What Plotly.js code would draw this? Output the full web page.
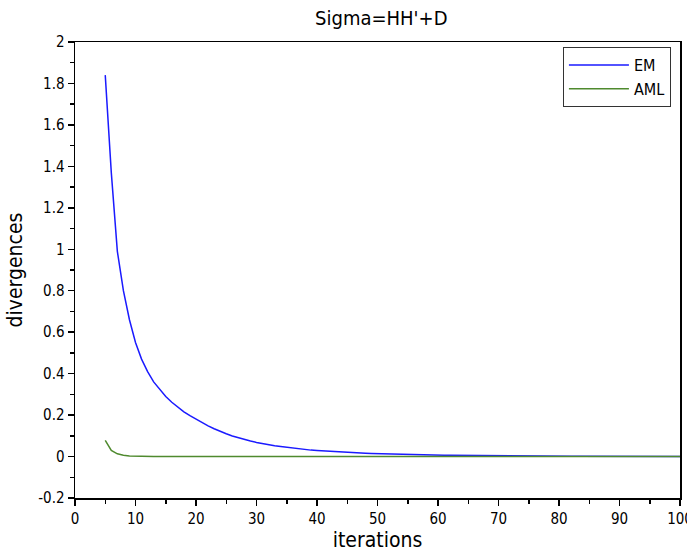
<!DOCTYPE html>
<html>
<head>
<meta charset="utf-8">
<script src="https://cdn.plot.ly/plotly-3.0.1.min.js"></script>
<style>html,body{margin:0;padding:0;background:#fff;}#chart{width:687px;height:552px;}</style>
</head>
<body>
<div id="chart"></div>
<script>
var iterations = [5,6,7,8,9,10,11,12,13,14,15,16,17,18,19,20,21,22,23,24,25,26,27,28,29,30,31,32,33,34,35,36,37,38,39,40,41,42,43,44,45,46,47,48,49,50,51,52,53,54,55,56,57,58,59,60,61,62,63,64,65,66,67,68,69,70,71,72,73,74,75,76,77,78,79,80,81,82,83,84,85,86,87,88,89,90,91,92,93,94,95,96,97,98,99,100];
var emValues = [1.84,1.37,0.99,0.80,0.66,0.55,0.47,0.41,0.36,0.325,0.29,0.262,0.238,0.216,0.197,0.18,0.163,0.148,0.134,0.121,0.110,0.099,0.090,0.082,0.075,0.068,0.062,0.057,0.052,0.048,0.044,0.040,0.037,0.034,0.031,0.029,0.027,0.025,0.023,0.021,0.020,0.018,0.017,0.016,0.015,0.014,0.013,0.012,0.011,0.0105,0.0098,0.0092,0.0086,0.0081,0.0076,0.0071,0.0067,0.0063,0.0059,0.0055,0.0052,0.0049,0.0046,0.0043,0.0041,0.0038,0.0036,0.0034,0.0032,0.0030,0.0028,0.0027,0.0025,0.0024,0.0022,0.0021,0.0020,0.0019,0.0018,0.0017,0.0016,0.0015,0.0014,0.0013,0.0012,0.0012,0.0011,0.0010,0.0010,0.0009,0.0009,0.0008,0.0008,0.0007,0.0007,0.0006];
var amlValues = [0.078,0.030,0.013,0.006,0.003,0.0015,0.0008,0.0005,0.0003,0.0002,0.0001,0.0001,0,0,0,0,0,0,0,0,0,0,0,0,0,0,0,0,0,0,0,0,0,0,0,0,0,0,0,0,0,0,0,0,0,0,0,0,0,0,0,0,0,0,0,0,0,0,0,0,0,0,0,0,0,0,0,0,0,0,0,0,0,0,0,0,0,0,0,0,0,0,0,0,0,0,0,0,0,0,0,0,0,0,0,0];
var seriesNames = ["EM","AML"];
var xTickVals = [0,10,20,30,40,50,60,70,80,90,100];
var yTickVals = [-0.2,0,0.2,0.4,0.6,0.8,1,1.2,1.4,1.6,1.8,2];
var yTickText = ["-0.2","0","0.2","0.4","0.6","0.8","1","1.2","1.4","1.6","1.8","2"];

var FONT = "DejaVu Sans Condensed, DejaVu Sans, sans-serif";
var traces = [
  {x: iterations, y: emValues, name: seriesNames[0], mode: "lines", line: {color: "#1a1aff", width: 1.5}},
  {x: iterations, y: amlValues, name: seriesNames[1], mode: "lines", line: {color: "#4f8a2e", width: 1.5}}
];
var layout = {
  width: 687, height: 552,
  paper_bgcolor: "#fff", plot_bgcolor: "#fff",
  margin: {l: 75, r: 7, t: 42, b: 54},
  font: {family: FONT, color: "#000", size: 15},
  title: {text: "Sigma=HH'+D", x: 0.555, xanchor: "center", y: 0.968, yanchor: "middle", font: {family: FONT, size: 20, color: "#000"}},
  xaxis: {
    range: [0, 100], tickvals: xTickVals, ticks: "outside", ticklen: 6, tickwidth: 1.5, tickcolor: "#000",
    minor: {dtick: 5, ticks: "outside", ticklen: 4, tickwidth: 1.5, tickcolor: "#000", showgrid: false},
    showline: true, linecolor: "#000", linewidth: 1.5, mirror: true, showgrid: false, zeroline: false,
    ticklabeloverflow: "allow",
    tickfont: {family: FONT, size: 15, color: "#000"},
    title: {text: "iterations", font: {family: FONT, size: 21, color: "#000"}, standoff: 6}
  },
  yaxis: {
    range: [-0.2, 2], tickvals: yTickVals, ticktext: yTickText, ticks: "outside", ticklen: 6, tickwidth: 1.5, tickcolor: "#000",
    minor: {dtick: 0.1, ticks: "outside", ticklen: 4, tickwidth: 1.5, tickcolor: "#000", showgrid: false},
    showline: true, linecolor: "#000", linewidth: 1.5, mirror: true, showgrid: false, zeroline: false,
    tickfont: {family: FONT, size: 15, color: "#000"},
    title: {text: "divergences", font: {family: FONT, size: 21, color: "#000"}, standoff: 10}
  },
  showlegend: true,
  legend: {x: 0.985, y: 0.989, xanchor: "right", yanchor: "top", bgcolor: "#fff", bordercolor: "#333", borderwidth: 1,
    font: {family: FONT, size: 16, color: "#000"}, itemwidth: 60, tracegroupgap: 0}
};
Plotly.newPlot("chart", traces, layout, {staticPlot: true, displayModeBar: false});
</script>
</body>
</html>
